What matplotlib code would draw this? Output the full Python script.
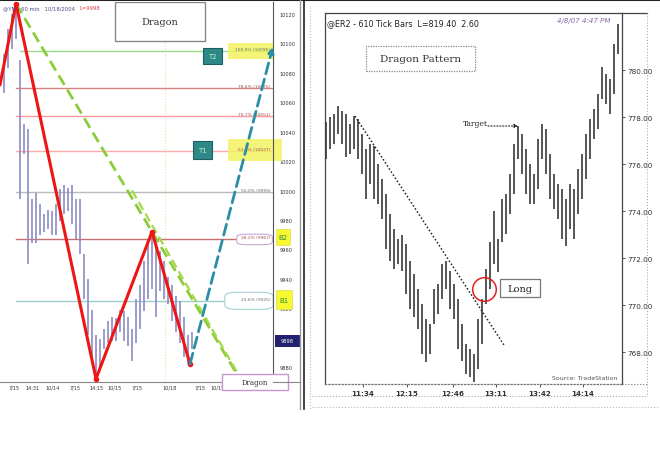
import matplotlib
matplotlib.use('Agg')
import matplotlib.pyplot as plt
from matplotlib.patches import Rectangle, FancyBboxPatch
from matplotlib.lines import Line2D

# ---------------- LEFT CHART DATA (YM 60 min) ----------------
left_idx = list(range(1, 49))
left_high = [10093, 10110, 10120, 10127, 10089, 10045, 10042, 9994, 9998, 9991,
             9984, 9987, 9986, 9991, 10001, 10004, 10002, 10004, 9994, 9994,
             9957, 9940, 9919, 9902, 9899, 9906, 9911, 9914, 9913, 9919,
             9918, 9914, 9906, 9926, 9936, 9952, 9964, 9972, 9964, 9959,
             9952, 9941, 9936, 9928, 9925, 9914, 9902, 9904]
left_low = [10066, 10083, 10096, 10103, 9994, 10025, 9950, 9964, 9964, 9970,
            9972, 9974, 9970, 9970, 9979, 9984, 9986, 9977, 9967, 9957,
            9926, 9902, 9885, 9873, 9877, 9892, 9896, 9898, 9898, 9904,
            9898, 9894, 9884, 9896, 9906, 9918, 9926, 9933, 9914, 9932,
            9926, 9923, 9911, 9904, 9896, 9887, 9882, 9892]
zigzag_x = [0, 4, 24, 38, 47.5]
zigzag_y = [10072, 10127, 9872, 9972, 9882]
fib_levels = [10095, 10070, 10051, 10027, 9999, 9967, 9925]
fib_labels = ["100.0% (10095)", "78.6% (10070)", "70.7% (10051)", "61.8% (10027)",
              "50.0% (9999)", "38.2% (9967)", "23.6% (9925)"]
fib_colors = ['#99dd88', '#d98080', '#ff9a9a', '#ffaaaa', '#bbbbbb', '#c87070', '#9ccccc']
left_yticks = [10120, 10100, 10080, 10060, 10040, 10020, 10000, 9980, 9960, 9940, 9920, 9880]
left_xticks = [3.5, 8.25, 13.25, 18.75, 24.25, 28.75, 34.25, 42.5, 50, 54.5, 59, 64.5]
left_xticklabels = ["7/15", "14:31", "10/14", "7/15", "14:15", "10/15", "7/15",
                    "10/18", "7/15", "10/15", "14:31", "10/18"]
last_price = 9898

# ---------------- RIGHT CHART DATA (ER2 610 tick) ----------------
right_high = [777.79, 778.00, 778.13, 778.47, 778.25, 778.13, 777.70, 778.04, 777.91, 777.28,
              776.64, 776.85, 776.77, 776.00, 775.36, 774.72, 773.87, 773.23, 772.81, 772.98,
              772.59, 771.87, 771.32, 770.68, 770.04, 769.40, 769.19, 770.68, 770.89, 771.74,
              771.87, 771.45, 770.89, 770.25, 769.19, 768.34, 768.13, 767.91, 769.40, 770.25,
              771.53, 772.68, 774.00, 772.81, 774.51, 774.72, 775.57, 776.85, 777.62, 777.28,
              776.64, 776.00, 775.57, 777.06, 777.70, 777.49, 776.42, 775.57, 775.15, 774.94,
              774.51, 775.15, 774.94, 775.79, 776.42, 777.28, 777.91, 778.34, 778.98, 780.13,
              779.83, 779.62, 781.11, 781.96]
right_low = [776.21, 776.64, 776.85, 777.28, 776.85, 776.30, 776.42, 776.64, 776.21, 775.57,
             774.51, 775.15, 774.51, 774.30, 773.66, 772.38, 771.87, 771.53, 771.74, 771.45,
             770.47, 769.83, 769.49, 768.98, 767.91, 767.57, 767.91, 769.19, 769.62, 770.25,
             770.68, 769.83, 769.40, 768.13, 767.62, 767.06, 766.93, 766.72, 767.28, 768.34,
             770.04, 770.68, 771.74, 771.40, 772.68, 773.02, 773.87, 774.72, 776.21, 775.57,
             774.72, 774.30, 774.30, 774.94, 776.21, 775.57, 774.51, 774.08, 773.66, 772.81,
             772.51, 773.23, 772.81, 773.87, 774.51, 775.36, 776.21, 777.06, 777.49, 778.77,
             778.55, 778.13, 778.98, 780.68]
right_idx = list(range(len(right_high)))
right_yticks = [768, 770, 772, 774, 776, 778, 780]
right_xticks = [9.25, 20.25, 31.75, 42.5, 53.5, 64.25]
right_xticklabels = ["11:34", "12:15", "12:46", "13:11", "13:42", "14:14"]
trend_x = [7.25, 44.5]
trend_y = [778.04, 768.30]

W, H = 660, 477
fig = plt.figure(figsize=(6.6, 4.77), dpi=100)
fig.patch.set_facecolor('white')


def fx(x):
    return x / W


def fy(y):
    return 1 - y / H


def fline(xs, ys, **kw):
    fig.add_artist(Line2D([fx(v) for v in xs], [fy(v) for v in ys],
                          transform=fig.transFigure, **kw))


# ================= LEFT AXES =================
axL = fig.add_axes([fx(0), fy(383), 273 / W, 380 / H])
axL.set_xlim(0, 68.25)
axL.set_ylim(9869.8, 10128.2)
for s in ['left', 'top']:
    axL.spines[s].set_visible(False)
axL.spines['right'].set_color('#555555')
axL.spines['bottom'].set_color('#888888')
axL.yaxis.tick_right()
axL.set_yticks(left_yticks)
axL.set_yticklabels([str(v) for v in left_yticks])
axL.tick_params(axis='y', length=0, labelsize=3.6, pad=5, colors='#333333')
axL.set_xticks(left_xticks)
axL.set_xticklabels(left_xticklabels)
axL.tick_params(axis='x', length=0, labelsize=3.6, pad=2, colors='#333333')

# vertical dotted marker line
axL.axvline(41.25, color='#e8e0a0', lw=0.8, ls=':')

# fib lines
fib_start = [5, 4, 4, 4, 4, 4, 4]
for lev, col, st in zip(fib_levels, fib_colors, fib_start):
    axL.plot([st, 68.25], [lev, lev], color=col, lw=1.0, zorder=1)

# highlight boxes for labels
axL.add_patch(Rectangle((57, 10089.4), 11.2, 10.9, facecolor='#f2f25a', edgecolor='none', alpha=0.8, zorder=2))
axL.add_patch(Rectangle((57, 10020), 13.5, 15, facecolor='#f2f25a', edgecolor='none', alpha=0.8,
                        zorder=2, clip_on=False))
axL.add_patch(FancyBboxPatch((59.5, 9963.5), 8.3, 6.5, boxstyle='round,pad=0.3,rounding_size=2',
                             facecolor='white', edgecolor='#c8a8d8', lw=0.8, zorder=2))
axL.add_patch(FancyBboxPatch((56.5, 9919.5), 11.5, 11.0, boxstyle='round,pad=0.3,rounding_size=3',
                             facecolor='white', edgecolor='#a8d0d0', lw=0.8, zorder=2))
for lev, lab, col in zip(fib_levels, fib_labels, fib_colors):
    axL.text(67.6, lev + 1.2, lab, fontsize=3.2, ha='right', va='center', color='#a05050'
             if col not in ('#99dd88', '#bbbbbb', '#9ccccc') else '#607060', zorder=3)

# bars
axL.vlines(left_idx, left_low, left_high, colors='#8c8cc4', lw=1.2, zorder=3)

# green dashed lines
axL.plot([4, 59.5], [10127, 9874], color='#8ccc3a', lw=2, ls=(0, (4, 2)), zorder=4)
axL.plot([33, 60], [10000, 9873], color='#a4d84a', lw=1.6, ls=(0, (4, 2)), zorder=4)
# red zigzag
axL.plot(zigzag_x, zigzag_y, color='#ee1515', lw=2.2, zorder=5, solid_joinstyle='miter')
axL.plot(zigzag_x[1:], zigzag_y[1:], 'o', color='#ee1515', ms=3, zorder=5)
# blue dashed arrow
axL.annotate('', xy=(68.2, 10097.6), xytext=(47.5, 9882),
             arrowprops=dict(arrowstyle='-|>', color='#2a8ea4', lw=2, ls=(0, (4, 2)),
                             mutation_scale=8, shrinkA=0, shrinkB=0), zorder=6)

# Dragon title box
axL.add_patch(Rectangle((28.75, 10101.6), 22.5, 26.5, facecolor='white', edgecolor='#888888', lw=1, zorder=6))
axL.text(40, 10115.2, "Dragon", fontsize=7, family='DejaVu Serif', ha='center', va='center',
         color='#333333', zorder=7)
# T2 / T1 boxes
for (x0, y0, h, lab) in [(50.75, 10086, 10.9, 'T2'), (48.25, 10021.4, 12.2, 'T1')]:
    axL.add_patch(Rectangle((x0, y0), 4.75, h, facecolor='#2e8888', edgecolor='#1e5f5f', lw=0.8, zorder=6))
    axL.text(x0 + 2.375, y0 + h / 2, lab, fontsize=5, ha='center', va='center', color='#b8f0c8', zorder=7)
# B2 / B1 boxes (outside right axis)
for (x0, y0, w, h, lab) in [(69, 9962.9, 3.5, 10.9, 'B2'), (69, 9919.4, 4, 12.9, 'B1')]:
    axL.add_patch(Rectangle((x0, y0), w, h, facecolor='#f8f830', edgecolor='#e0e060', lw=0.6,
                            zorder=6, clip_on=False))
    axL.text(x0 + w / 2, y0 + h / 2, lab, fontsize=5, ha='center', va='center', color='#2a8a3a',
             zorder=7, clip_on=False)
# last price tag
axL.add_patch(Rectangle((68.75, 9893.6), 6.25, 8.2, facecolor='#22226e', edgecolor='none',
                        zorder=6, clip_on=False))
axL.text(71.9, 9897.7, str(last_price), fontsize=3.6, ha='center', va='center', color='white',
         zorder=7, clip_on=False)
# bottom Dragon box
axL.add_patch(Rectangle((55.5, 9864.3), 16.5, 10.9, facecolor='white', edgecolor='#c898d0', lw=1,
                        zorder=6, clip_on=False))
axL.text(63.75, 9869.7, "Dragon", fontsize=5, family='DejaVu Serif', ha='center', va='center',
         color='#333333', zorder=7, clip_on=False)
# title
axL.text(0.01, 0.992, "@YM - 60 min   10/18/2004", transform=axL.transAxes, fontsize=3.8,
         ha='left', va='top', color='#4a4a8a', zorder=7)
axL.text(0.29, 0.992, "L=9998", transform=axL.transAxes, fontsize=3.8,
         ha='left', va='top', color='#e04040', zorder=7)

# ================= RIGHT AXES =================
axR = fig.add_axes([fx(325), fy(385), 297 / W, 371 / H])
axR.set_xlim(-0.25, 74)
axR.set_ylim(766.64, 782.43)
for s in axR.spines.values():
    s.set_color('#444444')
    s.set_linewidth(0.9)
axR.spines['bottom'].set_linestyle(':')
axR.spines['bottom'].set_color('#777777')
axR.yaxis.tick_right()
axR.set_yticks(right_yticks)
axR.set_yticklabels([f"{v:.2f}" for v in right_yticks])
axR.tick_params(axis='y', length=2.5, width=0.6, labelsize=5.2, pad=1.5, colors='#333333')
axR.set_xticks(right_xticks)
axR.set_xticklabels(right_xticklabels, fontweight='bold')
axR.tick_params(axis='x', length=2, width=0.6, labelsize=5.2, pad=2, colors='#333333')

axR.vlines(right_idx, right_low, right_high, colors='#3a3a3a', lw=1.2, zorder=3)
axR.plot(trend_x, trend_y, color='#222222', lw=1.1, ls=(0, (1, 1.4)), zorder=4)

# Target
axR.annotate('', xy=(48, 777.62), xytext=(40.5, 777.62),
             arrowprops=dict(arrowstyle='-|>', color='#222222', lw=0.8, ls=':', mutation_scale=5,
                             shrinkA=0, shrinkB=0), zorder=5)
axR.text(37.3, 777.74, "Target", fontsize=5.5, family='DejaVu Serif', ha='center', va='center',
         color='#222222', zorder=5)
# Long circle and box
axR.plot(39.5, 770.68, 'o', ms=17, mfc='none', mec='#e02020', mew=1.1, zorder=5)
axR.add_patch(Rectangle((43.5, 770.34), 10, 0.77, facecolor='white', edgecolor='#777777', lw=0.9, zorder=5))
axR.text(48.5, 770.72, "Long", fontsize=7, family='DejaVu Serif', ha='center', va='center',
         color='#222222', zorder=6)
# Dragon Pattern box
axR.add_patch(Rectangle((10, 779.96), 27.25, 1.06, facecolor='white', edgecolor='#888888', lw=0.9,
                        ls=(0, (1, 1)), zorder=5))
axR.text(23.6, 780.49, "Dragon Pattern", fontsize=7.5, family='DejaVu Serif', ha='center', va='center',
         color='#333333', zorder=6)
# titles
axR.text(0.008, 0.985, "@ER2 - 610 Tick Bars  L=819.40  2.60", transform=axR.transAxes, fontsize=5.8,
         ha='left', va='top', color='#222222')
axR.text(0.96, 0.99, "4/8/07 4:47 PM", transform=axR.transAxes, fontsize=5,
         ha='right', va='top', color='#8866aa', style='italic')
axR.text(0.985, 0.012, "Source: TradeStation", transform=axR.transAxes, fontsize=4.5,
         ha='right', va='bottom', color='#555555')

# ================= FRAME LINES =================
fline([0, 660], [1, 1], color='#222222', lw=1.5)
fline([300, 300], [0, 410], color='#999999', lw=1)
fline([303.5, 303.5], [0, 410], color='#222222', lw=1.2)
fline([273, 300], [383, 383], color='#888888', lw=0.8)
fline([622, 647], [14, 14], color='#444444', lw=0.9)
fline([622, 647], [385, 385], color='#777777', lw=0.8, ls=':')
fline([647, 647], [14, 397], color='#aaaaaa', lw=0.8, ls=':')
fline([312, 647], [397, 397], color='#aaaaaa', lw=0.8, ls=':')
fline([312, 660], [408, 408], color='#bbbbbb', lw=0.8, ls=':')
fline([310, 310], [8, 410], color='#bbbbbb', lw=0.8, ls=':')

fig.savefig('out.png', dpi=100, facecolor='white')
